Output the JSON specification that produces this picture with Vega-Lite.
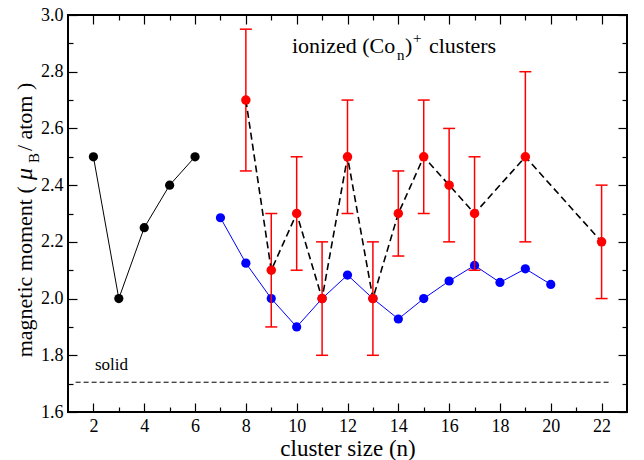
{
  "$schema": "https://vega.github.io/schema/vega-lite/v6.json",
  "width": 559,
  "height": 397,
  "autosize": {"type": "none"},
  "padding": {"left": 68, "top": 15, "right": 17, "bottom": 48},
  "background": "white",
  "config": {
    "view": {"stroke": "black", "strokeWidth": 2},
    "font": "Liberation Serif, Times New Roman, DejaVu Serif, serif",
    "text": {"font": "Liberation Serif, Times New Roman, DejaVu Serif, serif"},
    "axis": {
      "domain": false,
      "grid": false,
      "labelFont": "Liberation Serif, Times New Roman, DejaVu Serif, serif",
      "labelFontSize": 18,
      "labelColor": "black",
      "tickColor": "black",
      "tickWidth": 1.2,
      "titleFont": "Liberation Serif, Times New Roman, DejaVu Serif, serif",
      "titleFontWeight": "normal",
      "titleColor": "black"
    }
  },
  "datasets": {
    "black": [
      {"n": 2, "m": 2.5}, {"n": 3, "m": 2.0}, {"n": 4, "m": 2.25}, {"n": 5, "m": 2.4}, {"n": 6, "m": 2.5}
    ],
    "blue": [
      {"n": 7, "m": 2.285}, {"n": 8, "m": 2.125}, {"n": 9, "m": 2.0}, {"n": 10, "m": 1.9},
      {"n": 11, "m": 2.0}, {"n": 12, "m": 2.083}, {"n": 13, "m": 2.0}, {"n": 14, "m": 1.928},
      {"n": 15, "m": 2.0}, {"n": 16, "m": 2.062}, {"n": 17, "m": 2.117}, {"n": 18, "m": 2.057},
      {"n": 19, "m": 2.105}, {"n": 20, "m": 2.05}
    ],
    "red": [
      {"n": 8, "m": 2.7, "lo": 2.45, "hi": 2.95},
      {"n": 9, "m": 2.1, "lo": 1.9, "hi": 2.3},
      {"n": 10, "m": 2.3, "lo": 2.1, "hi": 2.5},
      {"n": 11, "m": 2.0, "lo": 1.8, "hi": 2.2},
      {"n": 12, "m": 2.5, "lo": 2.3, "hi": 2.7},
      {"n": 13, "m": 2.0, "lo": 1.8, "hi": 2.2},
      {"n": 14, "m": 2.3, "lo": 2.15, "hi": 2.45},
      {"n": 15, "m": 2.5, "lo": 2.3, "hi": 2.7},
      {"n": 16, "m": 2.4, "lo": 2.2, "hi": 2.6},
      {"n": 17, "m": 2.3, "lo": 2.1, "hi": 2.5},
      {"n": 19, "m": 2.5, "lo": 2.2, "hi": 2.8},
      {"n": 22, "m": 2.2, "lo": 2.0, "hi": 2.4}
    ]
  },
  "layer": [
    {
      "data": {"name": "black"},
      "mark": {"type": "line", "color": "black", "strokeWidth": 1},
      "encoding": {
        "x": {"field": "n", "type": "quantitative", "scale": {"domain": [1, 23], "nice": false, "zero": false},
          "axis": {"orient": "bottom", "values": [2,3,4,5,6,7,8,9,10,11,12,13,14,15,16,17,18,19,20,21,22],
            "labelExpr": "datum.value % 2 == 0 ? datum.label : ''",
            "tickSize": {"condition": {"test": "datum.value % 2 == 1", "value": -5}, "value": -9},
            "labelPadding": 14, "title": "cluster size (n)", "titleFontSize": 23, "titlePadding": 2}},
        "y": {"field": "m", "type": "quantitative", "scale": {"domain": [1.6, 3.0], "nice": false, "zero": false},
          "axis": {"orient": "left", "values": [1.6,1.7,1.8,1.9,2.0,2.1,2.2,2.3,2.4,2.5,2.6,2.7,2.8,2.9,3.0],
            "labelExpr": "round(datum.value*10) % 2 == 0 ? format(datum.value, '.1f') : ''",
            "tickSize": {"condition": {"test": "round(datum.value*10) % 2 == 1", "value": -5}, "value": -9},
            "labelPadding": 14, "title": null}}
      }
    },
    {
      "data": {"name": "blue"},
      "mark": {"type": "line", "color": "#0000ff", "strokeWidth": 1},
      "encoding": {
        "x": {"field": "n", "type": "quantitative",
          "axis": {"orient": "top", "values": [2,3,4,5,6,7,8,9,10,11,12,13,14,15,16,17,18,19,20,21,22],
            "labels": false, "title": null,
            "tickSize": {"condition": {"test": "datum.value % 2 == 1", "value": -5}, "value": -9}}},
        "y": {"field": "m", "type": "quantitative",
          "axis": {"orient": "right", "values": [1.6,1.7,1.8,1.9,2.0,2.1,2.2,2.3,2.4,2.5,2.6,2.7,2.8,2.9,3.0],
            "labels": false, "title": null,
            "tickSize": {"condition": {"test": "round(datum.value*10) % 2 == 1", "value": -5}, "value": -9}}}
      }
    },
    {
      "data": {"values": [{"label": "solid"}]},
      "mark": {"type": "rule", "color": "black", "strokeWidth": 1, "strokeDash": [5, 3]},
      "encoding": {
        "x": {"datum": 1.3, "type": "quantitative", "axis": null},
        "x2": {"datum": 22.4},
        "y": {"datum": 1.705, "type": "quantitative", "axis": null}
      }
    },
    {
      "data": {"values": [{"label": "solid"}]},
      "mark": {"type": "text", "fontSize": 17, "align": "left", "baseline": "alphabetic", "color": "black"},
      "encoding": {
        "x": {"datum": 2.06, "type": "quantitative", "axis": null},
        "y": {"datum": 1.749, "type": "quantitative", "axis": null},
        "text": {"field": "label"}
      }
    },
    {
      "data": {"name": "black"},
      "mark": {"type": "circle", "color": "black", "opacity": 1, "size": 85},
      "encoding": {
        "x": {"field": "n", "type": "quantitative", "axis": null},
        "y": {"field": "m", "type": "quantitative", "axis": null}
      }
    },
    {
      "data": {"name": "blue"},
      "mark": {"type": "circle", "color": "#0000ff", "opacity": 1, "size": 85},
      "encoding": {
        "x": {"field": "n", "type": "quantitative", "axis": null},
        "y": {"field": "m", "type": "quantitative", "axis": null}
      }
    },
    {
      "data": {"name": "red"},
      "mark": {"type": "rule", "color": "#ff0000", "strokeWidth": 1.5},
      "encoding": {
        "x": {"field": "n", "type": "quantitative", "axis": null},
        "y": {"field": "lo", "type": "quantitative", "axis": null},
        "y2": {"field": "hi"}
      }
    },
    {
      "data": {"name": "red"},
      "mark": {"type": "tick", "color": "#ff0000", "orient": "horizontal", "size": 12, "thickness": 1.5, "opacity": 1},
      "encoding": {
        "x": {"field": "n", "type": "quantitative", "axis": null},
        "y": {"field": "lo", "type": "quantitative", "axis": null}
      }
    },
    {
      "data": {"name": "red"},
      "mark": {"type": "tick", "color": "#ff0000", "orient": "horizontal", "size": 12, "thickness": 1.5, "opacity": 1},
      "encoding": {
        "x": {"field": "n", "type": "quantitative", "axis": null},
        "y": {"field": "hi", "type": "quantitative", "axis": null}
      }
    },
    {
      "data": {"name": "red"},
      "mark": {"type": "line", "color": "black", "strokeWidth": 1.6, "strokeDash": [7, 4]},
      "encoding": {
        "x": {"field": "n", "type": "quantitative", "axis": null},
        "y": {"field": "m", "type": "quantitative", "axis": null}
      }
    },
    {
      "data": {"name": "red"},
      "mark": {"type": "circle", "color": "#ff0000", "opacity": 1, "size": 90},
      "encoding": {
        "x": {"field": "n", "type": "quantitative", "axis": null},
        "y": {"field": "m", "type": "quantitative", "axis": null}
      }
    },
    {
      "data": {"values": [{"t": "ionized (Co"}]},
      "mark": {"type": "text", "fontSize": 22, "align": "left", "baseline": "alphabetic", "color": "black"},
      "encoding": {
        "x": {"datum": 9.815, "type": "quantitative", "axis": null},
        "y": {"datum": 2.865, "type": "quantitative", "axis": null},
        "text": {"field": "t"}
      }
    },
    {
      "data": {"values": [{"t": "n"}]},
      "mark": {"type": "text", "fontSize": 15, "align": "left", "baseline": "alphabetic", "color": "black", "dx": 105, "dy": 7},
      "encoding": {
        "x": {"datum": 9.815, "type": "quantitative", "axis": null},
        "y": {"datum": 2.865, "type": "quantitative", "axis": null},
        "text": {"field": "t"}
      }
    },
    {
      "data": {"values": [{"t": ")"}]},
      "mark": {"type": "text", "fontSize": 22, "align": "left", "baseline": "alphabetic", "color": "black", "dx": 113},
      "encoding": {
        "x": {"datum": 9.815, "type": "quantitative", "axis": null},
        "y": {"datum": 2.865, "type": "quantitative", "axis": null},
        "text": {"field": "t"}
      }
    },
    {
      "data": {"values": [{"t": "+"}]},
      "mark": {"type": "text", "fontSize": 15, "align": "left", "baseline": "alphabetic", "color": "black", "dx": 121, "dy": -10},
      "encoding": {
        "x": {"datum": 9.815, "type": "quantitative", "axis": null},
        "y": {"datum": 2.865, "type": "quantitative", "axis": null},
        "text": {"field": "t"}
      }
    },
    {
      "data": {"values": [{"t": "clusters"}]},
      "mark": {"type": "text", "fontSize": 22, "align": "left", "baseline": "alphabetic", "color": "black", "dx": 137},
      "encoding": {
        "x": {"datum": 9.815, "type": "quantitative", "axis": null},
        "y": {"datum": 2.865, "type": "quantitative", "axis": null},
        "text": {"field": "t"}
      }
    },
    {
      "data": {"values": [{"t": "magnetic moment ( "}]},
      "mark": {"type": "text", "fontSize": 22, "angle": 270, "align": "left", "baseline": "alphabetic", "color": "black"},
      "encoding": {
        "x": {"datum": -0.429, "type": "quantitative", "axis": null},
        "y": {"datum": 1.793, "type": "quantitative", "axis": null},
        "text": {"field": "t"}
      }
    },
    {
      "data": {"values": [{"t": "μ"}]},
      "mark": {"type": "text", "fontSize": 24, "fontStyle": "italic", "angle": 270, "align": "left", "baseline": "alphabetic", "color": "black"},
      "encoding": {
        "x": {"datum": -0.429, "type": "quantitative", "axis": null},
        "y": {"datum": 2.418, "type": "quantitative", "axis": null},
        "text": {"field": "t"}
      }
    },
    {
      "data": {"values": [{"t": "B"}]},
      "mark": {"type": "text", "fontSize": 15, "angle": 270, "align": "left", "baseline": "alphabetic", "color": "black"},
      "encoding": {
        "x": {"datum": -0.161, "type": "quantitative", "axis": null},
        "y": {"datum": 2.478, "type": "quantitative", "axis": null},
        "text": {"field": "t"}
      }
    },
    {
      "data": {"values": [{"t": "/ atom )"}]},
      "mark": {"type": "text", "fontSize": 22, "angle": 270, "align": "left", "baseline": "alphabetic", "color": "black"},
      "encoding": {
        "x": {"datum": -0.429, "type": "quantitative", "axis": null},
        "y": {"datum": 2.52, "type": "quantitative", "axis": null},
        "text": {"field": "t"}
      }
    }
  ],
  "resolve": {"axis": {"x": "independent", "y": "independent"}}
}
